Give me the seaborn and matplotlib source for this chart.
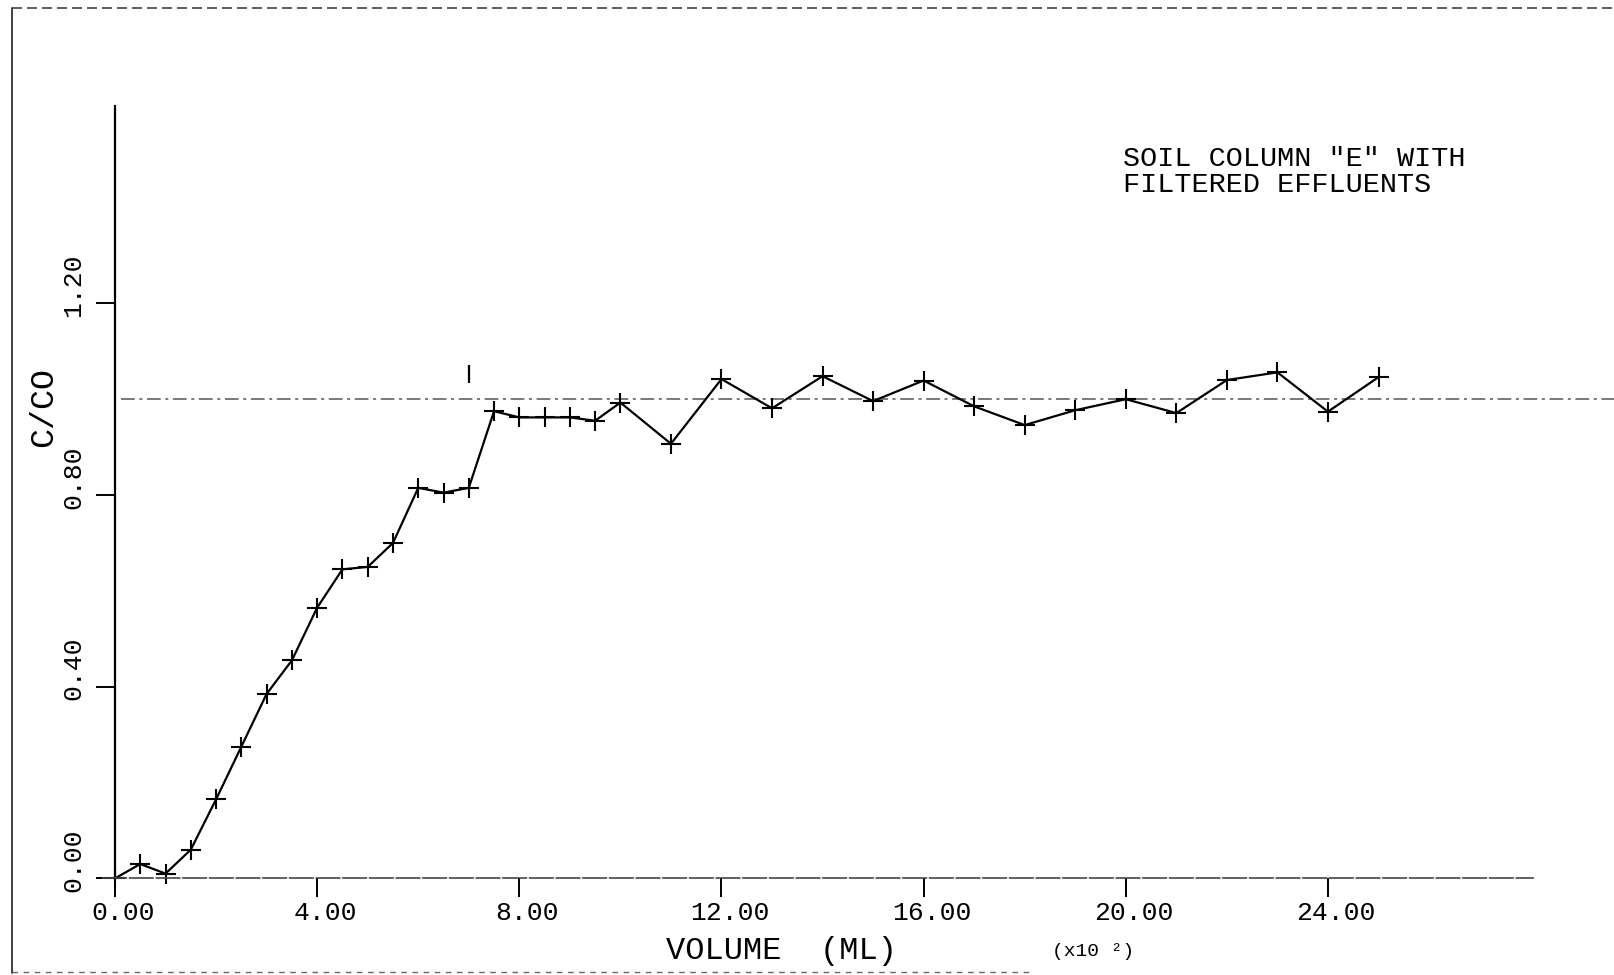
import matplotlib
matplotlib.use("Agg")
import matplotlib.pyplot as plt
import matplotlib.transforms as mtransforms
from matplotlib.lines import Line2D
import pandas as pd
import seaborn as sns

# Breakthrough curve: effluent volume (x10^2 mL) vs relative concentration C/C0
volume = [0.0, 0.5, 1.0, 1.5, 2.0, 2.5, 3.0, 3.5, 4.0, 4.5, 5.0, 5.5, 6.0, 6.5, 7.0,
          7.5, 8.0, 8.5, 9.0, 9.5, 10.0, 11.0, 12.0, 13.0, 14.0, 15.0, 16.0, 17.0,
          18.0, 19.0, 20.0, 21.0, 22.0, 23.0, 24.0, 25.0]
c_over_c0 = [0.00, 0.03, 0.01, 0.06, 0.165, 0.275, 0.385, 0.455, 0.565, 0.645, 0.65, 0.70,
             0.815, 0.805, 0.815,
             0.975, 0.962, 0.962, 0.962, 0.955, 0.993, 0.907, 1.042, 0.981, 1.048, 0.996,
             1.039, 0.985,
             0.946, 0.977, 1.0, 0.971, 1.04, 1.056, 0.974, 1.046]

# isolated pen mark above the curve
stray_x = [7.0]
stray_y = [1.053]

reference_level = 1.0

x_ticks = [0, 4, 8, 12, 16, 20, 24]
x_tick_labels = ["0.00", "4.00", "8.00", "12.00", "16.00", "20.00", "24.00"]
y_ticks = [0.0, 0.4, 0.8, 1.2]
y_tick_labels = ["0.00", "0.40", "0.80", "1.20"]

title_text = 'SOIL COLUMN "E" WITH\nFILTERED EFFLUENTS'
x_label = "VOLUME  (ML)"
x_scale_note = "(x10 \u00b2)"
y_label = "C/CO"

sns.set_theme(style="white")
plt.rcParams["font.family"] = ["Liberation Mono", "DejaVu Sans Mono"]

W, H, DPI = 1614, 975, 100
fig = plt.figure(figsize=(W / DPI, H / DPI), dpi=DPI)
fig.patch.set_facecolor("white")
ax = fig.add_axes([0, 0, 1, 1])
ax.set_facecolor("white")

# data-to-pixel layout of the plotter page
px_per_x, x_origin_px = 50.54, 115.0
px_per_y, y_origin_px = 479.2, 878.4
ax.set_xlim(-x_origin_px / px_per_x, (W - x_origin_px) / px_per_x)
ax.set_ylim(-(H - y_origin_px) / px_per_y, y_origin_px / px_per_y)

# axis lines drawn through the origin
for side in ["top", "right"]:
    ax.spines[side].set_visible(False)
ax.spines["left"].set_position(("data", 0))
ax.spines["left"].set_bounds(0, 1.612)
ax.spines["left"].set_color("black")
ax.spines["left"].set_linewidth(1.6)
ax.spines["bottom"].set_position(("data", 0))
ax.spines["bottom"].set_bounds(-0.24, 28.06)
ax.spines["bottom"].set_color("#444444")
ax.spines["bottom"].set_linewidth(1.2)
ax.spines["bottom"].set_linestyle((0, (14, 2)))

# reference line at C/C0 = 1
ax.hlines(reference_level, 0.12, ax.get_xlim()[1], colors="#555555",
          linewidth=1.1, linestyles=[(0, (9, 3, 2, 3))])

data = pd.DataFrame({"volume": volume, "c_over_c0": c_over_c0})
sns.lineplot(data=data, x="volume", y="c_over_c0", ax=ax, sort=False, estimator=None,
             color="black", linewidth=1.6, marker="+", markersize=15,
             markeredgewidth=1.5, markeredgecolor="black")
ax.plot(stray_x, stray_y, linestyle="none", marker="|", markersize=13,
        markeredgewidth=1.6, color="black")

ax.set_xticks(x_ticks)
ax.set_xticklabels(x_tick_labels)
ax.set_yticks(y_ticks)
ax.set_yticklabels(y_tick_labels, rotation=90, va="center")
ax.tick_params(axis="x", direction="out", length=13.5, width=1.4, pad=3,
               labelsize=19, colors="black", bottom=True)
ax.tick_params(axis="y", direction="out", length=13.5, width=1.4, pad=8,
               labelsize=19, colors="black", left=True)

# plotter places tick text slightly off the tick positions
x_shift = mtransforms.ScaledTranslation(8 / DPI, 0, fig.dpi_scale_trans)
for lab in ax.get_xticklabels():
    lab.set_transform(lab.get_transform() + x_shift)
y_shift = mtransforms.ScaledTranslation(0, 18 / DPI, fig.dpi_scale_trans)
for lab in ax.get_yticklabels():
    lab.set_transform(lab.get_transform() + y_shift)

ax.set_xlabel(x_label, fontsize=23, color="black")
ax.xaxis.set_label_coords(782 / W, 1 - 951 / H)
ax.xaxis.label.set_va("center")
ax.set_ylabel(y_label, fontsize=24, color="black")
ax.yaxis.set_label_coords(44 / W, 1 - 407 / H)
ax.yaxis.label.set_va("center")

fig.text(1052 / W, 1 - 951 / H, x_scale_note, fontsize=14, ha="left", va="center",
         color="black")
fig.text(1123 / W, 1 - 146 / H, title_text, fontsize=20.5, ha="left", va="top",
         linespacing=0.98, color="black")

# page frame of the plotter sheet
fig.add_artist(Line2D([12 / W, 12 / W], [1 - 8 / H, 1 - 973 / H], transform=fig.transFigure,
                      color="#333333", linewidth=1.3))
fig.add_artist(Line2D([12 / W, 1.0], [1 - 8 / H, 1 - 8 / H], transform=fig.transFigure,
                      color="#444444", linewidth=1.2, linestyle=(0, (6, 3))))
fig.add_artist(Line2D([12 / W, 1030 / W], [1 - 972 / H, 1 - 972 / H], transform=fig.transFigure,
                      color="#666666", linewidth=1.0, linestyle=(0, (4, 4))))

fig.savefig("out.png", dpi=DPI, facecolor="white")
